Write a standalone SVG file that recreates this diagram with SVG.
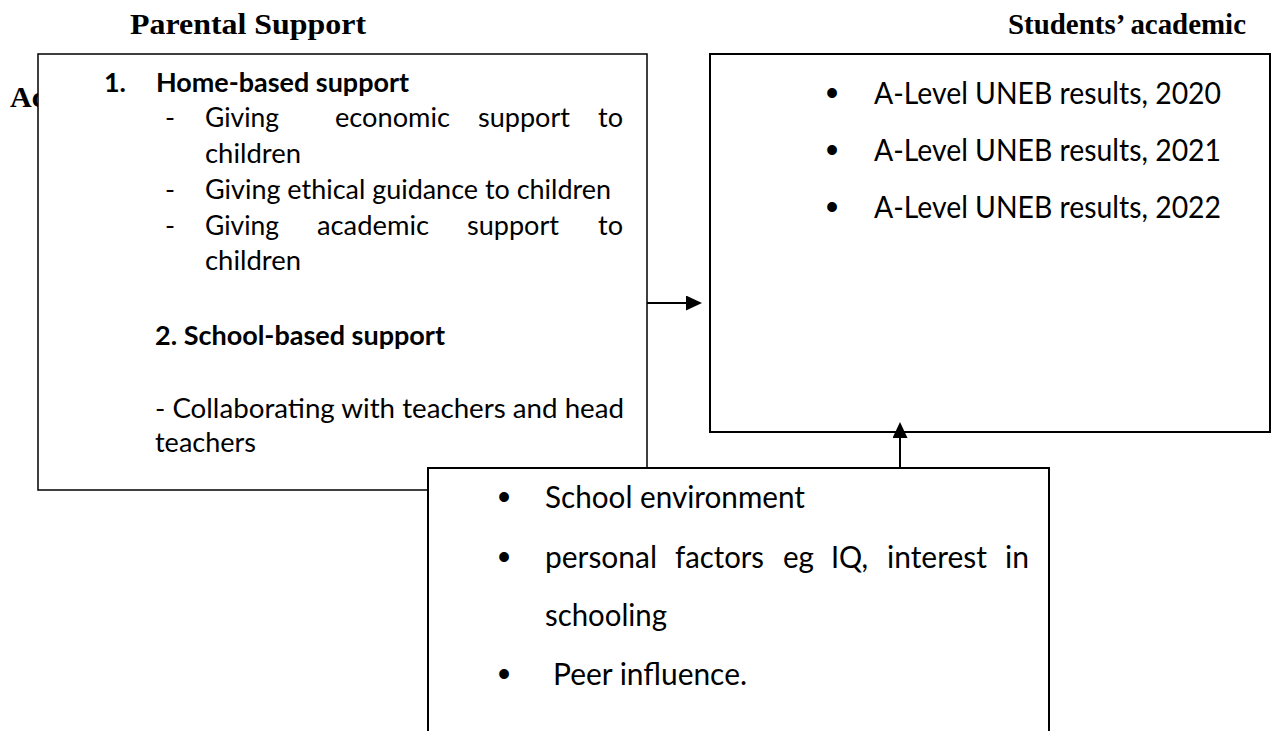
<svg xmlns="http://www.w3.org/2000/svg" width="1276" height="731" viewBox="0 0 1276 731">
  <style>
    .head { font-family: "Liberation Serif", "Times New Roman", serif; font-weight: bold; font-size: 30px; fill: #000; }
    .body { font-family: Lato, "Open Sans", "Liberation Sans", sans-serif; font-size: 27px; fill: #000; }
    .bold { font-weight: bold; }
    .big { font-family: Lato, "Open Sans", "Liberation Sans", sans-serif; font-size: 30px; fill: #000; }
    .dot { font-family: "Liberation Sans", Arial, sans-serif; font-size: 36px; fill: #000; text-anchor: middle; }
    .box { fill: #fff; stroke: #000; stroke-width: 2; }
    .thin { stroke-width: 1.5; }
    .wire { fill: none; stroke: #000; stroke-width: 2; }
  </style>
  <defs>
    <marker id="arrow" markerUnits="userSpaceOnUse" markerWidth="16" markerHeight="15" refX="12" refY="7.5" orient="auto">
      <path d="M0,0 L16,7.5 L0,15 Z" fill="#000"/>
    </marker>
  </defs>
  <rect width="1276" height="731" fill="#fff"/>

  <!-- column headings -->
  <g id="headings">
    <text class="head" x="130" y="34" textLength="236" lengthAdjust="spacingAndGlyphs">Parental Support</text>
    <text class="head" x="1008" y="34" textLength="238" lengthAdjust="spacingAndGlyphs">Students’ academic</text>
    <text class="head" x="10" y="107">Ac</text>
  </g>

  <!-- independent variable: parental support -->
  <g id="parental-support">
    <rect class="box thin" x="38" y="54" width="609" height="436"/>
    <text class="body bold" x="104" y="92" textLength="22" lengthAdjust="spacingAndGlyphs">1.</text>
    <text class="body bold" x="156" y="92" textLength="253" lengthAdjust="spacingAndGlyphs">Home-based support</text>

    <text class="body" x="165" y="127">-</text>
    <text class="body" x="205" y="127" textLength="74" lengthAdjust="spacingAndGlyphs">Giving</text>
    <text class="body" x="335" y="127" textLength="115" lengthAdjust="spacingAndGlyphs">economic</text>
    <text class="body" x="478" y="127" textLength="92" lengthAdjust="spacingAndGlyphs">support</text>
    <text class="body" x="598" y="127" textLength="25" lengthAdjust="spacingAndGlyphs">to</text>
    <text class="body" x="205" y="163" textLength="96" lengthAdjust="spacingAndGlyphs">children</text>

    <text class="body" x="165" y="199">-</text>
    <text class="body" x="205" y="199" textLength="406" lengthAdjust="spacingAndGlyphs">Giving ethical guidance to children</text>

    <text class="body" x="165" y="235">-</text>
    <text class="body" x="205" y="235" textLength="74" lengthAdjust="spacingAndGlyphs">Giving</text>
    <text class="body" x="317" y="235" textLength="112" lengthAdjust="spacingAndGlyphs">academic</text>
    <text class="body" x="467" y="235" textLength="92" lengthAdjust="spacingAndGlyphs">support</text>
    <text class="body" x="598" y="235" textLength="25" lengthAdjust="spacingAndGlyphs">to</text>
    <text class="body" x="205" y="270" textLength="96" lengthAdjust="spacingAndGlyphs">children</text>

    <text class="body bold" x="155" y="345" textLength="290" lengthAdjust="spacingAndGlyphs">2. School-based support</text>
    <text class="body" x="155" y="418" textLength="469" lengthAdjust="spacingAndGlyphs">- Collaborating with teachers and head</text>
    <text class="body" x="155" y="452" textLength="101" lengthAdjust="spacingAndGlyphs">teachers</text>
  </g>

  <!-- dependent variable: academic achievement -->
  <g id="academic-achievement">
    <rect class="box" x="710" y="54" width="560" height="378"/>
    <text class="dot" x="832" y="105">•</text>
    <text class="big" x="874" y="104" textLength="347" lengthAdjust="spacingAndGlyphs">A-Level UNEB results, 2020</text>
    <text class="dot" x="832" y="162">•</text>
    <text class="big" x="874" y="161" textLength="347" lengthAdjust="spacingAndGlyphs">A-Level UNEB results, 2021</text>
    <text class="dot" x="832" y="219">•</text>
    <text class="big" x="874" y="218" textLength="347" lengthAdjust="spacingAndGlyphs">A-Level UNEB results, 2022</text>
  </g>

  <!-- intervening variables -->
  <g id="other-factors">
    <rect class="box" x="428" y="468" width="621" height="280"/>
    <text class="dot" x="504" y="509">•</text>
    <text class="big" x="545" y="508" textLength="260" lengthAdjust="spacingAndGlyphs">School environment</text>
    <text class="dot" x="504" y="569">•</text>
    <text class="big" x="545" y="568" textLength="112" lengthAdjust="spacingAndGlyphs">personal</text>
    <text class="big" x="675" y="568" textLength="89" lengthAdjust="spacingAndGlyphs">factors</text>
    <text class="big" x="783" y="568" textLength="31" lengthAdjust="spacingAndGlyphs">eg</text>
    <text class="big" x="831" y="568" textLength="37" lengthAdjust="spacingAndGlyphs">IQ,</text>
    <text class="big" x="887" y="568" textLength="100" lengthAdjust="spacingAndGlyphs">interest</text>
    <text class="big" x="1005" y="568" textLength="24" lengthAdjust="spacingAndGlyphs">in</text>
    <text class="big" x="545" y="626" textLength="122" lengthAdjust="spacingAndGlyphs">schooling</text>
    <text class="dot" x="504" y="686">•</text>
    <text class="big" x="553" y="685" textLength="194" lengthAdjust="spacingAndGlyphs">Peer influence.</text>
  </g>

  <!-- connectors -->
  <g id="connectors">
    <line class="wire" x1="647" y1="303" x2="698" y2="303" marker-end="url(#arrow)"/>
    <line class="wire" x1="900" y1="468" x2="900" y2="426" marker-end="url(#arrow)"/>
  </g>
</svg>
